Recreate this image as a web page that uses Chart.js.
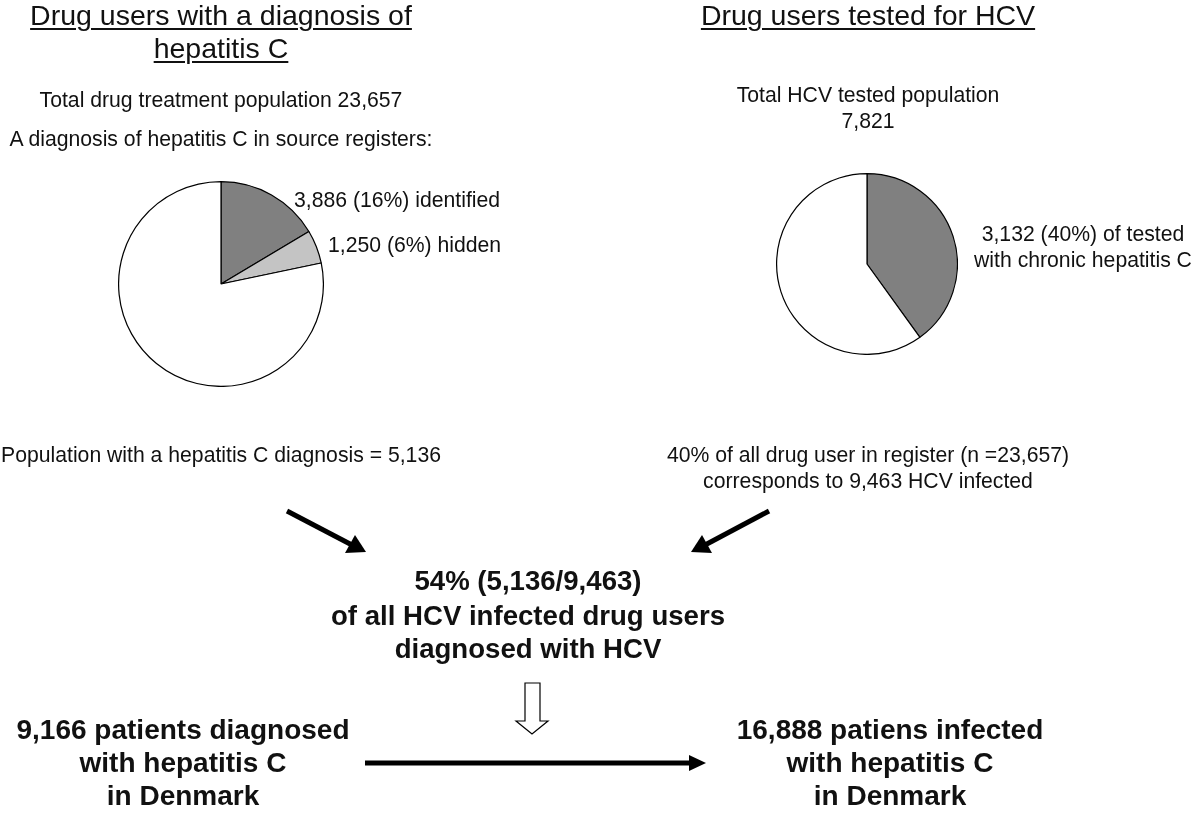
<!DOCTYPE html>
<html>
<head>
<meta charset="utf-8">
<script src="https://cdn.jsdelivr.net/npm/chart.js@4"></script>
<style>
  html, body { margin: 0; padding: 0; background: #fff; }
  #page { position: relative; width: 1200px; height: 813px; overflow: hidden;
          font-family: "Liberation Sans", Arial, Helvetica, sans-serif; color: #111; }
  .txt { position: absolute; white-space: nowrap; text-align: center; }
  .u { text-decoration: underline; text-decoration-thickness: 2px; text-underline-offset: 3px; }
  canvas { position: absolute; }
  svg { position: absolute; left: 0; top: 0; }
</style>
</head>
<body>
<div id="page">
  <canvas id="pieLeft" width="206" height="206" style="left:118px; top:181px;"></canvas>
  <canvas id="pieRight" width="182" height="182" style="left:776px; top:173px;"></canvas>
  <svg width="1200" height="813">
    <!-- diagonal arrows -->
    <line x1="287" y1="511" x2="352" y2="545" stroke="#000" stroke-width="5"/>
    <polygon points="366,552 345,553 355,535" fill="#000"/>
    <line x1="769" y1="511" x2="705" y2="545" stroke="#000" stroke-width="5"/>
    <polygon points="691,552 702,535 712,553" fill="#000"/>
    <!-- hollow down arrow -->
    <polygon points="525,683 540,683 540,721 548,721 532,734 516,721 525,721" fill="#fff" stroke="#000" stroke-width="1.2"/>
    <!-- horizontal arrow -->
    <line x1="365" y1="763" x2="690" y2="763" stroke="#000" stroke-width="5"/>
    <polygon points="706,763 689,755 689,771" fill="#000"/>
  </svg>
</div>
<script>
'use strict';

/* pie data */
var leftLabels = ['identified', 'hidden', 'no diagnosis'];
var leftValues = [3886, 1250, 18521];
var leftColors = ['#808080', '#c4c4c4', '#ffffff'];

var rightLabels = ['chronic hepatitis C', 'other tested'];
var rightValues = [3132, 4689];
var rightColors = ['#808080', '#ffffff'];

function makePie(id, labels, values, colors) {
	return new Chart(document.getElementById(id), {
		type: 'pie',
		data: {
			labels: labels,
			datasets: [{
				data: values,
				backgroundColor: colors,
				borderColor: '#000',
				borderWidth: 1.2,
			}]
		},
		options: {
			responsive: false,
			animation: false,
			layout: { padding: 0 },
			plugins: { legend: { display: false }, tooltip: { enabled: false } },
		},
	});
}

makePie('pieLeft', leftLabels, leftValues, leftColors);
makePie('pieRight', rightLabels, rightValues, rightColors);

/* text lines: text, x, baseline, size, bold, align, underline */
var page = document.getElementById('page');
function addText(t, x, base, size, bold, align, under) {
	var d = document.createElement('div');
	d.className = 'txt' + (under ? ' u' : '');
	d.textContent = t;
	d.style.fontSize = size + 'px';
	d.style.lineHeight = size + 'px';
	d.style.fontWeight = bold ? 'bold' : 'normal';
	d.style.top = (base - 0.8465 * size) + 'px';
	if (align === 'left') {
		d.style.left = x + 'px';
		d.style.textAlign = 'left';
	} else {
		d.style.left = (x - 400) + 'px';
		d.style.width = '800px';
	}
	page.appendChild(d);
}

addText('Drug users with a diagnosis of', 221, 25, 28.5, false, 'center', true);
addText('hepatitis C', 221, 58, 28.5, false, 'center', true);
addText('Drug users tested for HCV', 868, 25, 28.5, false, 'center', true);

addText('Total drug treatment population 23,657', 221, 107, 21.2);
addText('A diagnosis of hepatitis C in source registers:', 221, 146, 21.2);
addText('Total HCV tested population', 868, 102, 21.2);
addText('7,821', 868, 128, 21.2);

addText('3,886 (16%) identified', 294, 207, 21.2, false, 'left');
addText('1,250 (6%) hidden', 328, 252, 21.2, false, 'left');
addText('3,132 (40%) of tested', 1083, 241, 21.2);
addText('with chronic hepatitis C', 1083, 267, 21.2);

addText('Population with a hepatitis C diagnosis = 5,136', 221, 462, 21.2);
addText('40% of all drug user in register (n =23,657)', 868, 462, 21.2);
addText('corresponds to 9,463 HCV infected', 868, 488, 21.2);

addText('54% (5,136/9,463)', 528, 590, 27.6, true);
addText('of all HCV infected drug users', 528, 625, 27.6, true);
addText('diagnosed with HCV', 528, 658, 27.6, true);

addText('9,166 patients diagnosed', 183, 740, 28, true);
addText('with hepatitis C', 183, 773, 28, true);
addText('in Denmark', 183, 806, 28, true);
addText('16,888 patiens infected', 890, 740, 28, true);
addText('with hepatitis C', 890, 773, 28, true);
addText('in Denmark', 890, 806, 28, true);
</script>
</body>
</html>
